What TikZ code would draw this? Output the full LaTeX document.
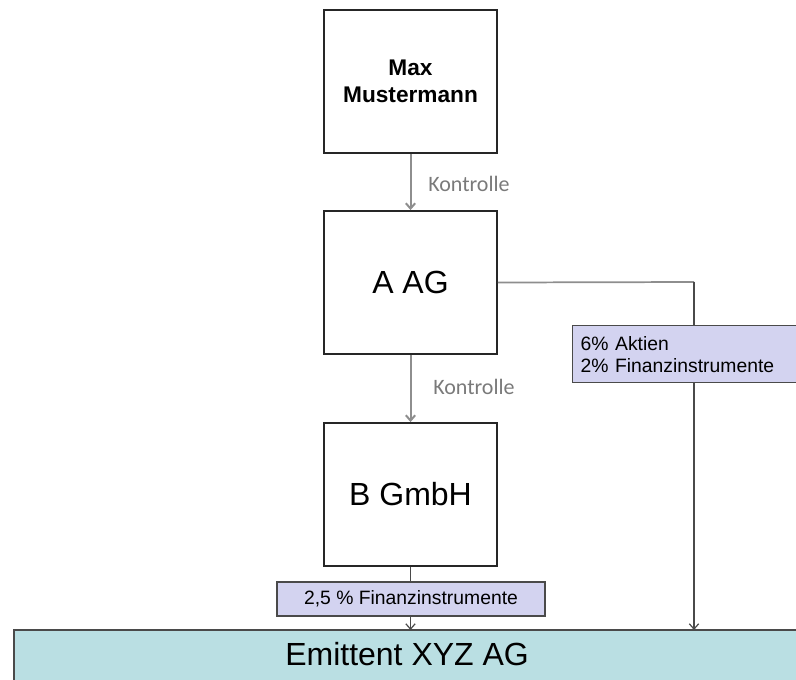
\documentclass[tikz,border=0pt]{standalone}
\usepackage{fontspec}
\setmainfont{Liberation Sans}
\newfontfamily\kfont{Carlito}
\usetikzlibrary{arrows.meta}
\definecolor{labelfill}{HTML}{D3D3F0}
\definecolor{emitfill}{HTML}{BADFE3}
\definecolor{ctrlgray}{HTML}{8E8E8E}
\definecolor{darkline}{HTML}{4A4A4A}
\definecolor{ktext}{HTML}{7A7A7A}
\begin{document}
\begin{tikzpicture}[x=0.75pt,y=-0.75pt,
  entity/.style={draw=black!85, line width=1.4pt, fill=white,
    minimum width=129.75pt, minimum height=107.25pt, inner sep=0pt, align=center},
  bigname/.style={font=\fontsize{24}{28}\selectfont},
  tagbox/.style={draw=darkline, line width=1.1pt, fill=labelfill,
    font=\fontsize{14.5}{16.5}\selectfont, inner sep=0pt},
  ctrl/.style={font=\kfont\fontsize{16.5}{18}\selectfont, text=ktext, inner sep=0pt, anchor=west},
  ctrlarrow/.style={draw=ctrlgray, line width=1.5pt, -{Straight Barb[length=4pt,width=7pt]}},
  darkarrow/.style={draw=darkline, line width=0.9pt, -{Straight Barb[length=4pt,width=7pt]}},
  band/.style={fill=emitfill, draw=none, minimum width=600pt, minimum height=60pt, inner sep=0pt, anchor=north west}
]
\useasboundingbox (0,0) rectangle (796,679);

% band for the issuer
\node[band] (emitband) at (14,630) {};
\draw[darkline, line width=1.5pt] (emitband.north east) -- (emitband.north west) -- (emitband.south west);
\node[anchor=west, font=\fontsize{24}{28}\selectfont, inner sep=0pt] (emit) at (285,654) {Emittent XYZ AG};

% entities
\node[entity, font=\bfseries\fontsize{17}{20}\selectfont] (max) at (410.5,81.5) {Max\\Mustermann};
\node[entity, bigname] (aag) at (410.5,282.5) {A AG};
\node[entity, bigname] (bgmbh) at (410.5,494.5) {B GmbH};

% control arrows
\draw[ctrlarrow] (max.south) -- (aag.north);
\draw[ctrlarrow] (aag.south) -- (bgmbh.north);
\node[ctrl] (k1) at (428,184) {Kontrolle};
\node[ctrl] (k2) at (433,387) {Kontrolle};

% holdings
\coordinate (rx) at (694,282);
\draw[ctrlgray, line width=1.3pt] (aag.east) -- (rx);
\draw[darkarrow] (rx) -- (rx |- emitband.north);
\draw[darkarrow] (bgmbh.south) -- (bgmbh.south |- emitband.north);

% labels
\node[tagbox, minimum width=201pt, minimum height=25.5pt, align=center] (t1) at (411,599) {2,5 \% Finanzinstrumente};
\node[tagbox, anchor=north west, text width=168pt, inner xsep=6pt, minimum height=42.75pt, align=left] (t2) at (572,325) {6\% Aktien\\2\% Finanzinstrumente};
\end{tikzpicture}
\end{document}
